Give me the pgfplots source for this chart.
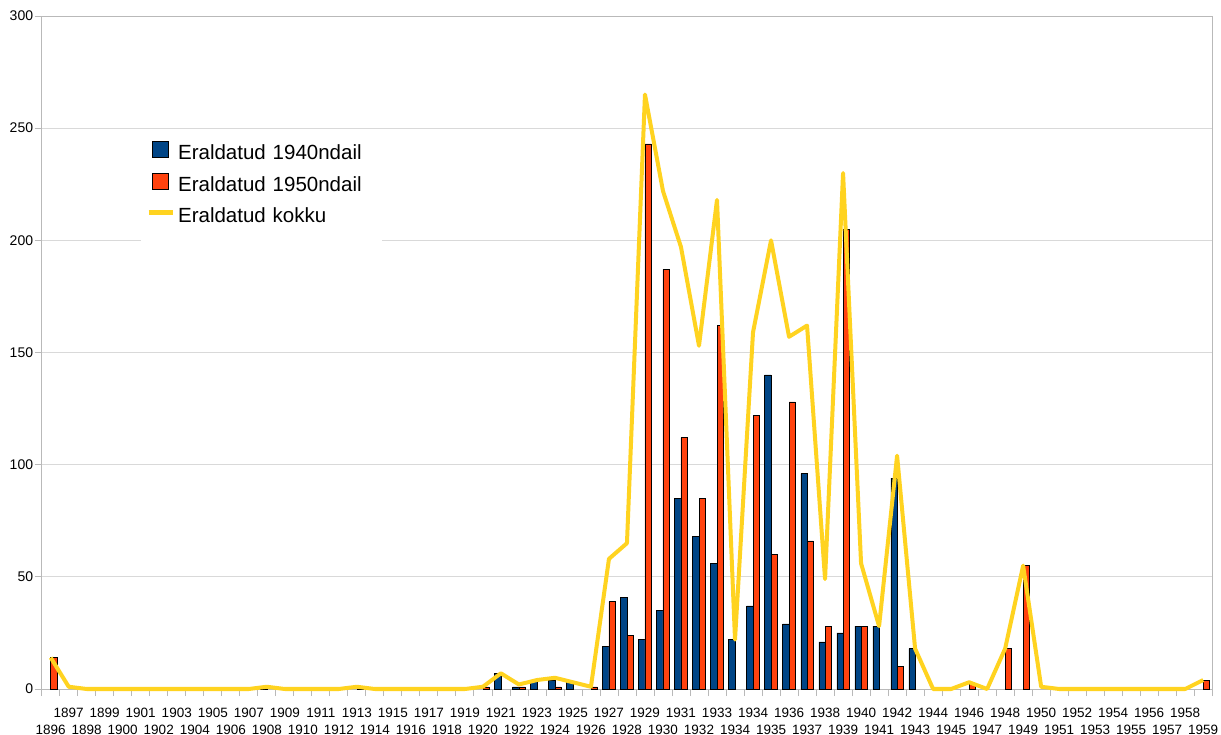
\documentclass[border=0pt]{standalone}
\usepackage{fontspec}
\setmainfont{Liberation Sans}
\usepackage{pgfplots}
\pgfplotsset{compat=1.18}
\definecolor{cblue}{HTML}{004586}
\definecolor{cred}{HTML}{FF420E}
\definecolor{cyel}{HTML}{FFD320}
\newcommand{\lw}[1]{\raisebox{-17bp}{#1}}
\begin{document}
\begin{tikzpicture}
\useasboundingbox (-41.7bp,-46bp) rectangle (1179.3bp,689bp);
\begin{axis}[
  at={(0,0)}, anchor=south west,
  scale only axis, width=1170.6bp, height=673bp,
  xmin=-0.5, xmax=64.5, ymin=0, ymax=300,
  clip=false,
  ybar=0pt, bar width=6.3bp,
  ytick={0,50,...,300},
  minor ytick={0,50,...,300},
  ymajorgrids, major grid style={gray!30, line width=0.8bp},
  axis line style={gray!55, line width=0.8bp},
  tick style={gray!55, line width=0.8bp},
  tick align=outside, tick pos=left,
  major tick length=0bp, minor tick length=7bp,
  minor xtick={-0.5,0.5,...,64.5},
  xtick={0,1,...,64},
  xticklabels={\lw{1896},1897,\lw{1898},1899,\lw{1900},1901,\lw{1902},1903,\lw{1904},1905,\lw{1906},1907,\lw{1908},1909,\lw{1910},1911,\lw{1912},1913,\lw{1914},1915,\lw{1916},1917,\lw{1918},1919,\lw{1920},1921,\lw{1922},1923,\lw{1924},1925,\lw{1926},1927,\lw{1928},1929,\lw{1930},1931,\lw{1932},1933,\lw{1934},1934,\lw{1935},1936,\lw{1937},1938,\lw{1939},1940,\lw{1941},1942,\lw{1943},1944,\lw{1945},1946,\lw{1947},1948,\lw{1949},1950,\lw{1951},1952,\lw{1953},1954,\lw{1955},1956,\lw{1957},1958,\lw{1959}},
  xticklabel style={anchor=base, yshift=-28bp, inner sep=0pt, font=\fontsize{13.5bp}{13.5bp}\selectfont},
  yticklabel style={anchor=east, inner sep=0pt, xshift=-8.4bp, font=\fontsize{14bp}{14bp}\selectfont},
  /pgf/number format/assume math mode=true,
  legend cell align=left,
  legend style={at={(0.0848,0.8306)}, anchor=north west, draw=none, fill=white,
    inner xsep=5bp, inner ysep=11bp, row sep=5.5bp, column sep=0bp,
    font=\fontsize{20.5bp}{24bp}\selectfont,
    nodes={inner sep=3bp, text height=15bp, text depth=5bp, text width=196bp, align=left}},
]
\addplot[fill=cblue, draw=black, line width=0.5bp,
  legend image code/.code={\path[draw=none,fill=none] (0bp,0bp) rectangle (24bp,1bp); \draw[fill=cblue, draw=black, line width=0.5bp] (4bp,-3bp) rectangle (20bp,13bp);}]
coordinates {(12,1) (25,7) (26,1) (27,4) (28,4) (29,3)
 (31,19) (32,41) (33,22) (34,35) (35,85) (36,68) (37,56) (38,22) (39,37) (40,140)
 (41,29) (42,96) (43,21) (44,25) (45,28) (46,28) (47,94) (48,18)};
\addlegendentry{Eraldatud 1940ndail}
\addplot[fill=cred, draw=black, line width=0.5bp,
  legend image code/.code={\path[draw=none,fill=none] (0bp,0bp) rectangle (24bp,1bp); \draw[fill=cred, draw=black, line width=0.5bp] (4bp,-3bp) rectangle (20bp,13bp);}]
coordinates {(0,14) (17,1) (24,1) (26,1) (28,1) (30,1)
 (31,39) (32,24) (33,243) (34,187) (35,112) (36,85) (37,162) (39,122) (40,60)
 (41,128) (42,66) (43,28) (44,205) (45,28) (47,10) (51,2) (53,18) (54,55) (64,4)};
\addlegendentry{Eraldatud 1950ndail}
\addplot[sharp plot, color=cyel, line width=4bp, line join=round,
  legend image code/.code={\draw[color=cyel, line width=5bp] (0bp,5bp) -- (24bp,5bp);}]
coordinates {(0,14) (1,1) (2,0) (3,0) (4,0) (5,0) (6,0) (7,0) (8,0) (9,0) (10,0) (11,0)
 (12,1) (13,0) (14,0) (15,0) (16,0) (17,1) (18,0) (19,0) (20,0) (21,0) (22,0) (23,0)
 (24,1) (25,7) (26,2) (27,4) (28,5) (29,3) (30,1) (31,58) (32,65) (33,265) (34,222)
 (35,197) (36,153) (37,218) (38,22) (39,159) (40,200) (41,157) (42,162) (43,49)
 (44,230) (45,56) (46,28) (47,104) (48,18) (49,0) (50,0) (51,3) (52,0) (53,18)
 (54,55) (55,1) (56,0) (57,0) (58,0) (59,0) (60,0) (61,0) (62,0) (63,0) (64,4)};
\addlegendentry{Eraldatud kokku}
\end{axis}
\end{tikzpicture}
\end{document}
